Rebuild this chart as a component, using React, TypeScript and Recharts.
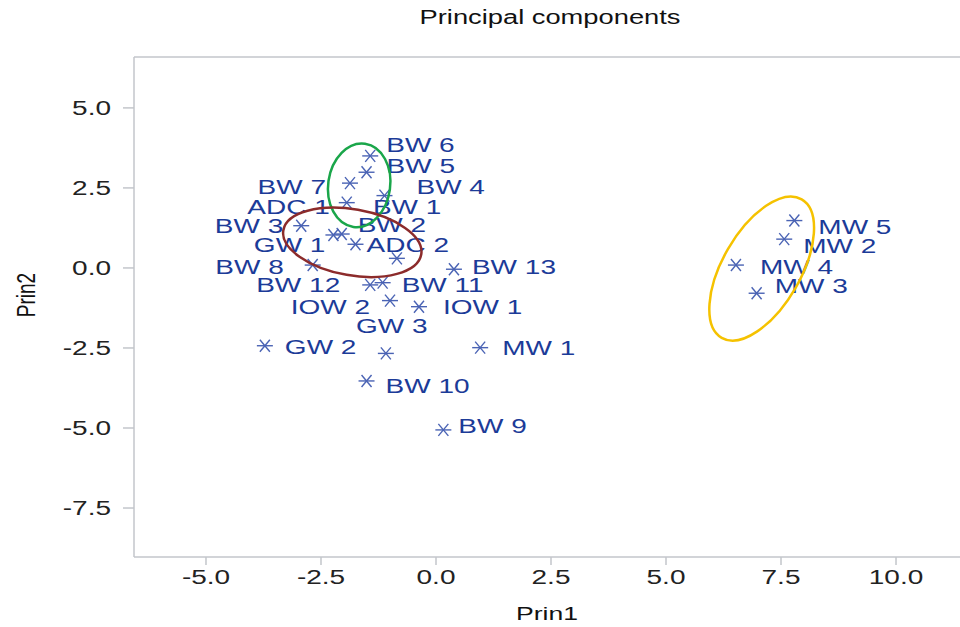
import { ScatterChart, Scatter, XAxis, YAxis, ReferenceDot, ReferenceLine } from "recharts";

// sample names and their scores on the first two principal components
const names = [
  "BW 6", "BW 5", "BW 7", "BW 4", "ADC 1", "BW 1", "BW 3", "BW 2", "GW 1",
  "ADC 2", "BW 8", "BW 13", "BW 12", "BW 11", "IOW 2", "IOW 1", "GW 3",
  "GW 2", "MW 1", "BW 10", "BW 9", "MW 5", "MW 2", "MW 4", "MW 3",
];
const prin1 = [
  -1.43, -1.51, -1.87, -1.12, -1.94, -0.85, -2.93, -2.05, -2.23,
  -1.75, -2.68, 0.39, -1.43, -1.16, -1.0, -0.37, -1.09,
  -3.72, 0.96, -1.51, 0.16, 7.79, 7.57, 6.52, 6.97,
];
const prin2 = [
  3.5, 2.99, 2.65, 2.26, 2.04, 0.3, 1.32, 1.06, 1.03,
  0.74, 0.09, -0.04, -0.53, -0.46, -1.02, -1.21, -2.67,
  -2.43, -2.49, -3.53, -5.06, 1.48, 0.9, 0.09, -0.79,
];
const ticks = [-5, -2.5, 0, 2.5, 5, 7.5, 10];

// group outlines: centre in data units
const groupNames = ["green", "red", "yellow"];
const groupX = [-1.67, -1.82, 7.08];
const groupY = [2.58, 0.8, -0.02];

const X_DOMAIN: [number, number] = [-6.565, 11.391];
const Y_DOMAIN: [number, number] = [-9.03, 6.59];

// label offsets in px from the marker (anchor, dx, dy to text centre)
const placement: Record<string, [string, number, number]> = {
  "BW 6": ["start", 16, -11],
  "BW 5": ["start", 20, -6],
  "BW 7": ["end", -24, 4],
  "BW 4": ["start", 32, -9],
  "ADC 1": ["end", -17, 4],
  "BW 1": ["start", -24, -51],
  "BW 3": ["end", -18, 0],
  "BW 2": ["start", 16, -9],
  "GW 1": ["end", -8, 10],
  "ADC 2": ["start", 11, 1],
  "BW 8": ["end", -29, 2],
  "BW 13": ["start", 18, -2],
  "BW 12": ["end", -30, 0],
  "BW 11": ["start", 19, 2],
  "IOW 2": ["end", -20, 6],
  "IOW 1": ["start", 24, 0],
  "GW 3": ["middle", 6, -27],
  "GW 2": ["start", 20, 1],
  "MW 1": ["start", 22, 0],
  "BW 10": ["start", 19, 5],
  "BW 9": ["start", 15, -4],
  "MW 5": ["start", 24, 6],
  "MW 2": ["start", 19, 7],
  "MW 4": ["start", 24, 2],
  "MW 3": ["start", 18, -7],
};

const ellipseStyle: Record<string, { rx: number; ry: number; rot: number; color: string }> = {
  green: { rx: 31, ry: 42, rot: 8, color: "#1aa64a" },
  red: { rx: 70, ry: 33, rot: 10, color: "#8c2b2b" },
  yellow: { rx: 39, ry: 80, rot: 30, color: "#f5c200" },
};

const FONT = "'Liberation Sans', Arial, Helvetica, sans-serif";
const STRETCH = 1.4;
const AXIS = "#c3c6cb";

const points = names.map((name, i) => ({ name, x: prin1[i], y: prin2[i] }));

function StarPoint(props: any) {
  const { cx, cy, payload } = props;
  const [anchor, dx, dy] = placement[payload.name] ?? ["start", 18, 0];
  return (
    <g>
      <g stroke="#4a63b4" strokeWidth={1.4}>
        <line x1={cx - 8} y1={cy} x2={cx + 8} y2={cy} />
        <line x1={cx - 5} y1={cy - 6} x2={cx + 5} y2={cy + 6} />
        <line x1={cx + 5} y1={cy - 6} x2={cx - 5} y2={cy + 6} />
      </g>
      <text
        transform={`translate(${cx + dx},${cy + dy + 7}) scale(${STRETCH},1)`}
        textAnchor={anchor}
        fontFamily={FONT}
        fontSize={20}
        fill="#1c3b98"
      >
        {payload.name}
      </text>
    </g>
  );
}

function XTick(props: any) {
  const { x, y, payload } = props;
  return (
    <text
      transform={`translate(${x},${y + 17}) scale(${STRETCH},1)`}
      textAnchor="middle"
      fontFamily={FONT}
      fontSize={20}
      fill="#222"
    >
      {Number(payload.value).toFixed(1)}
    </text>
  );
}

function YTick(props: any) {
  const { x, y, payload } = props;
  return (
    <text
      transform={`translate(${x - 10},${y + 7}) scale(${STRETCH},1)`}
      textAnchor="end"
      fontFamily={FONT}
      fontSize={20}
      fill="#222"
    >
      {Number(payload.value).toFixed(1)}
    </text>
  );
}

function GroupEllipse(name: string) {
  return (props: any) => {
    const s = ellipseStyle[name];
    const { cx, cy } = props;
    return (
      <ellipse
        cx={cx}
        cy={cy}
        rx={s.rx}
        ry={s.ry}
        transform={`rotate(${s.rot},${cx},${cy})`}
        fill="none"
        stroke={s.color}
        strokeWidth={2.5}
      />
    );
  };
}

export default function App() {
  return (
    <div style={{ position: "absolute", left: 0, top: 0, width: 960, height: 627, background: "#fff" }}>
      <svg width={960} height={40} style={{ position: "absolute", left: 0, top: 0 }}>
        <text
          transform={`translate(550,24) scale(${STRETCH},1)`}
          textAnchor="middle"
          fontFamily={FONT}
          fontSize={19.5}
          fill="#111"
        >
          Principal components
        </text>
      </svg>
      <ScatterChart width={960} height={627} margin={{ top: 57, right: 0, bottom: 20, left: 34 }}>
        <XAxis
          type="number"
          dataKey="x"
          domain={X_DOMAIN}
          allowDataOverflow
          ticks={ticks}
          interval={0}
          height={50}
          stroke={AXIS}
          strokeWidth={1.5}
          tickSize={8}
          tick={<XTick />}
          label={{
            content: (p: any) => (
              <text
                transform={`translate(${p.viewBox.x + p.viewBox.width / 2},${p.viewBox.y + 63}) scale(${STRETCH},1)`}
                textAnchor="middle"
                fontFamily={FONT}
                fontSize={19}
                fill="#111"
              >
                Prin1
              </text>
            ),
          }}
        />
        <YAxis
          type="number"
          dataKey="y"
          domain={Y_DOMAIN}
          allowDataOverflow
          ticks={[-7.5, -5, -2.5, 0, 2.5, 5]}
          interval={0}
          width={100}
          stroke={AXIS}
          strokeWidth={1.5}
          tickSize={11}
          tick={<YTick />}
          label={{
            content: () => (
              <text
                transform={`translate(35,295) scale(${STRETCH},1) rotate(-90)`}
                textAnchor="middle"
                fontFamily={FONT}
                fontSize={19}
                fill="#111"
              >
                Prin2
              </text>
            ),
          }}
        />
        <ReferenceLine y={Y_DOMAIN[1]} stroke={AXIS} strokeWidth={1.5} />
        <Scatter data={points} shape={<StarPoint />} isAnimationActive={false} />
        {groupNames.map((g, i) => (
          <ReferenceDot key={g} x={groupX[i]} y={groupY[i]} r={1} shape={GroupEllipse(g)} />
        ))}
      </ScatterChart>
    </div>
  );
}
